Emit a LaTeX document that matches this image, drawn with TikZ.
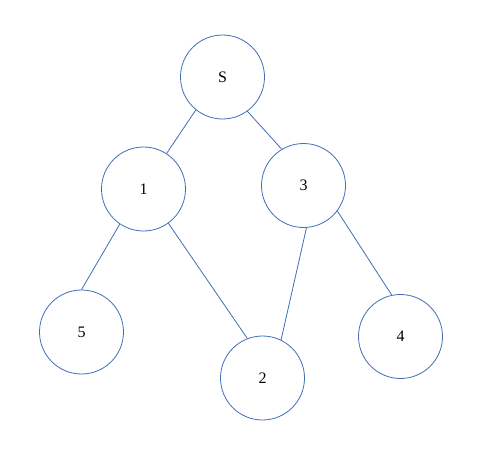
\documentclass[tikz,border=0pt]{standalone}
\usepackage{fontspec}
\setmainfont{Liberation Serif}
\definecolor{edgeblue}{HTML}{3F6DB8}
\begin{document}
\begin{tikzpicture}[
  x=1pt, y=-1pt,
  vert/.style={draw=edgeblue, line width=0.8pt, circle, minimum size=84pt, inner sep=0pt, font=\fontsize{16}{18}\selectfont},
  link/.style={draw=edgeblue, line width=0.8pt}
]
\useasboundingbox (0,0) rectangle (480,464);
\node[vert] (s) at (222.5,77) {S};
\node[vert] (v1) at (143.5,189) {1};
\node[vert] (v3) at (303.5,185.5) {3};
\node[vert] (v5) at (81.5,332) {5};
\node[vert] (v2) at (262.5,378) {2};
\node[vert] (v4) at (400.5,336.5) {4};
\foreach \a/\b in {s.231/v1.57,s.306/v3.121,v1.236/v5.north,v1.306/v2.111,v3.274/v2.64,v3.323/v4.102} {
  \path[link] (\a) -- (\b);
}
\end{tikzpicture}
\end{document}
